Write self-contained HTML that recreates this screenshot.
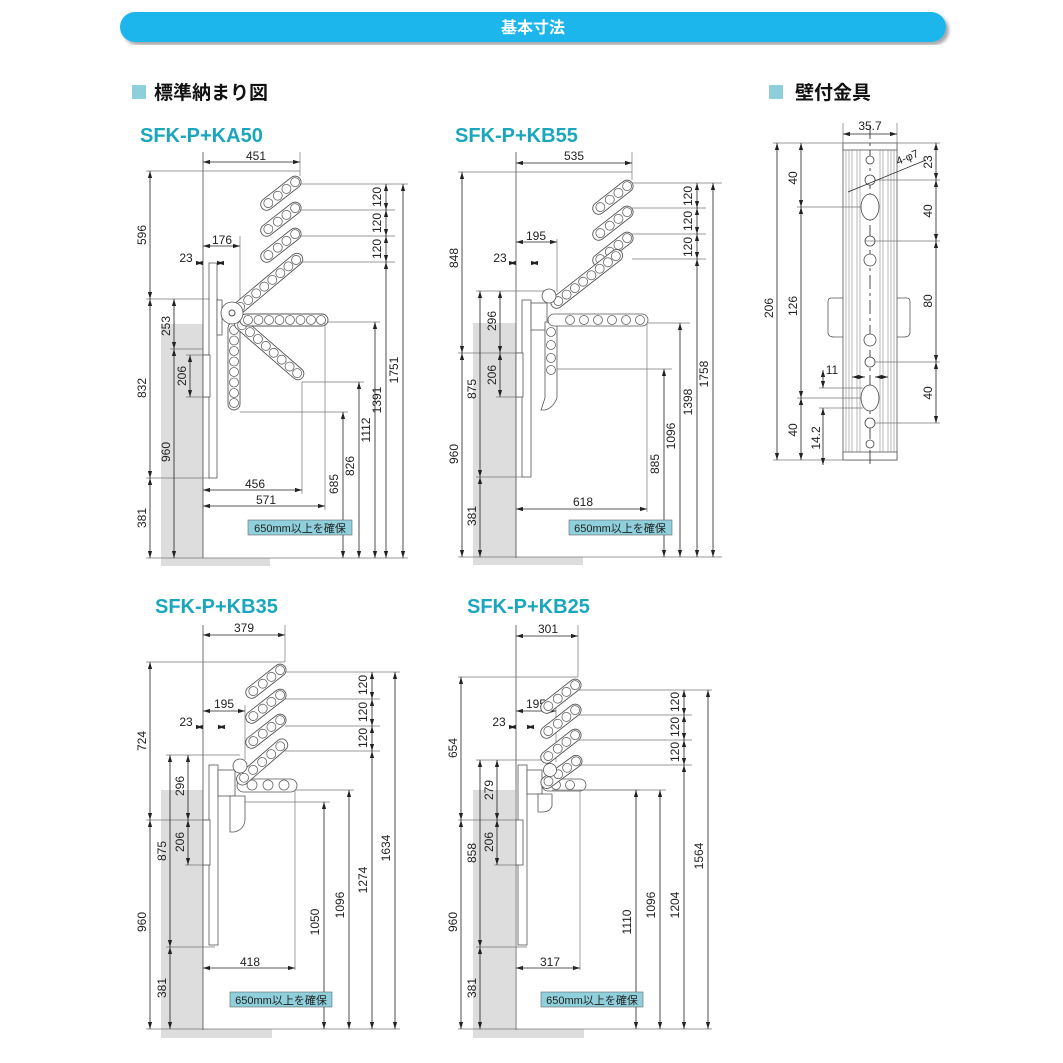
<!DOCTYPE html>
<html><head><meta charset="utf-8"><style>
body{margin:0;background:#fff}
svg{display:block}
.d{stroke:#222;stroke-width:.8;marker-start:url(#m);marker-end:url(#m);fill:none}
.e{stroke:#777;stroke-width:.7;fill:none}
.o{stroke:#555;stroke-width:.8;fill:#fff}
text{font-family:"Liberation Sans","Noto Sans CJK JP",sans-serif;font-size:12px;fill:#222}
.t{text-anchor:middle}
.ti{font-size:20px;fill:#1aa7bd;font-weight:bold}
.h{font-size:19px;font-weight:bold;fill:#111}
.bx{font-size:11px}
</style></head><body>
<svg width="1063" height="1063" viewBox="0 0 1063 1063" xmlns="http://www.w3.org/2000/svg">
<defs>
<marker id="m" viewBox="0 0 10 10" refX="10" refY="5" markerWidth="7" markerHeight="7" markerUnits="userSpaceOnUse" orient="auto-start-reverse"><path d="M0,2L10,5L0,8z" fill="#222"/></marker>
<g id="r4"><rect x="0" y="-6" width="48" height="12" rx="6" fill="#fff" stroke="#555" stroke-width=".9"/><g fill="none" stroke="#666" stroke-width=".8"><circle cx="8" r="4.5"/><circle cx="20" r="4.5"/><circle cx="31" r="4.5"/><circle cx="42" r="4.5"/></g></g>
<g id="r6"><rect x="0" y="-6" width="64" height="12" rx="6" fill="#fff" stroke="#555" stroke-width=".9"/><g fill="none" stroke="#666" stroke-width=".8"><circle cx="8" r="4.5"/><circle cx="20" r="4.5"/><circle cx="32" r="4.5"/><circle cx="44" r="4.5"/><circle cx="56" r="4.5"/></g></g>
<g id="r8"><rect x="0" y="-6" width="88" height="12" rx="6" fill="#fff" stroke="#555" stroke-width=".9"/><g fill="none" stroke="#666" stroke-width=".8"><circle cx="8" r="4.5"/><circle cx="18.5" r="4.5"/><circle cx="29" r="4.5"/><circle cx="39.5" r="4.5"/><circle cx="50" r="4.5"/><circle cx="60.5" r="4.5"/><circle cx="71" r="4.5"/><circle cx="81" r="4.5"/></g></g>
<filter id="sh"><feDropShadow dx="3" dy="3" stdDeviation="1.5" flood-color="#000" flood-opacity=".35"/></filter>
</defs>

<!-- header -->
<rect x="120" y="12" width="826" height="30" rx="15" fill="#1eb6ec" filter="url(#sh)"/>
<text x="533" y="33" class="t" style="font-size:16px;font-weight:bold;fill:#fff">基本寸法</text>
<rect x="132" y="85" width="14" height="14" fill="#8ecfdc"/>
<text x="154" y="99" class="h">標準納まり図</text>
<rect x="769" y="85" width="14" height="14" fill="#8ecfdc"/>
<text x="795" y="99" class="h">壁付金具</text>
<text x="140" y="142" class="ti">SFK-P+KA50</text>
<text x="455" y="142" class="ti">SFK-P+KB55</text>
<text x="155" y="613" class="ti">SFK-P+KB35</text>
<text x="467" y="613" class="ti">SFK-P+KB25</text>

<!-- ===== Diagram 1 KA50 ===== -->
<rect x="161" y="324" width="42" height="234" fill="#ddd"/>
<rect x="161" y="558" width="109" height="8" fill="#ddd"/>
<line x1="203" y1="152" x2="203" y2="558" class="e" style="stroke:#333"/>
<line x1="146" y1="558" x2="408" y2="558" class="e"/>
<line x1="146" y1="171" x2="300" y2="171" class="e"/>
<line x1="146" y1="299" x2="218" y2="299" class="e"/>
<line x1="146" y1="478" x2="210" y2="478" class="e"/>
<line x1="170" y1="349" x2="203" y2="349" class="e"/>
<line x1="186" y1="355" x2="210" y2="355" class="e"/>
<line x1="186" y1="397" x2="210" y2="397" class="e"/>
<rect x="209" y="263" width="8" height="215" class="o"/>
<rect x="217" y="300" width="5" height="35" class="o"/>
<rect x="203" y="355" width="7" height="42" class="o"/>
<line x1="300" y1="152" x2="300" y2="176" class="e"/>
<line x1="240" y1="236" x2="240" y2="305" class="e"/>
<line class="d" x1="203" y1="162" x2="300" y2="162"/><text x="256" y="160" class="t">451</text>
<line class="d" x1="203" y1="246" x2="240" y2="246"/><text x="222" y="244" class="t">176</text>
<line class="d" x1="196" y1="263" x2="203" y2="263"/><line class="d" x1="224" y1="263" x2="217" y2="263"/><text x="186" y="262" class="t">23</text>
<use href="#r4" transform="translate(262,208) rotate(-38)"/>
<use href="#r4" transform="translate(262,234) rotate(-38)"/>
<use href="#r4" transform="translate(262,260) rotate(-38)"/>
<use href="#r8" transform="translate(234,322) rotate(90)"/>
<use href="#r8" transform="translate(236,320) rotate(41)"/>
<use href="#r8" transform="translate(240,320)"/>
<use href="#r8" transform="translate(234,312) rotate(-40)"/>
<circle cx="232" cy="313" r="11" class="o"/><circle cx="232" cy="313" r="3" fill="none" stroke="#555"/>
<line x1="300" y1="184" x2="408" y2="184" class="e"/>
<line x1="300" y1="210" x2="395" y2="210" class="e"/>
<line x1="300" y1="236" x2="395" y2="236" class="e"/>
<line x1="300" y1="262" x2="395" y2="262" class="e"/>
<line x1="328" y1="322" x2="380" y2="322" class="e"/>
<line x1="302" y1="382" x2="364" y2="382" class="e"/>
<line x1="240" y1="412" x2="348" y2="412" class="e"/>
<line x1="302" y1="382" x2="302" y2="494" class="e"/>
<line x1="325" y1="322" x2="325" y2="510" class="e"/>
<line class="d" x1="150" y1="171" x2="150" y2="299"/><text transform="translate(146,235) rotate(-90)" class="t">596</text>
<line class="d" x1="150" y1="299" x2="150" y2="478"/><text transform="translate(146,388) rotate(-90)" class="t">832</text>
<line class="d" x1="150" y1="478" x2="150" y2="558"/><text transform="translate(146,518) rotate(-90)" class="t">381</text>
<line class="d" x1="174" y1="299" x2="174" y2="349"/><text transform="translate(170,326) rotate(-90)" class="t">253</text>
<line class="d" x1="174" y1="349" x2="174" y2="558"/><text transform="translate(170,452) rotate(-90)" class="t">960</text>
<line class="d" x1="190" y1="355" x2="190" y2="397"/><text transform="translate(186,376) rotate(-90)" class="t">206</text>
<line class="d" x1="386" y1="184" x2="386" y2="210"/><text transform="translate(381,197) rotate(-90)" class="t">120</text>
<line class="d" x1="386" y1="210" x2="386" y2="236"/><text transform="translate(381,223) rotate(-90)" class="t">120</text>
<line class="d" x1="386" y1="236" x2="386" y2="262"/><text transform="translate(381,249) rotate(-90)" class="t">120</text>
<line class="d" x1="386" y1="262" x2="386" y2="558"/><text transform="translate(381,400) rotate(-90)" class="t">1391</text>
<line class="d" x1="403" y1="184" x2="403" y2="558"/><text transform="translate(398,370) rotate(-90)" class="t">1751</text>
<line class="d" x1="375" y1="322" x2="375" y2="558"/><text transform="translate(370,430) rotate(-90)" class="t">1112</text>
<line class="d" x1="359" y1="382" x2="359" y2="558"/><text transform="translate(354,466) rotate(-90)" class="t">826</text>
<line class="d" x1="343" y1="412" x2="343" y2="558"/><text transform="translate(338,484) rotate(-90)" class="t">685</text>
<line class="d" x1="203" y1="490" x2="302" y2="490"/><text x="255" y="488" class="t">456</text>
<line class="d" x1="203" y1="506" x2="325" y2="506"/><text x="266" y="504" class="t">571</text>
<rect x="248" y="520" width="104" height="15" fill="#8fd0dc" stroke="#666" stroke-width=".6"/>
<text x="300" y="532" class="t bx">650mm以上を確保</text>

<!-- ===== Diagram 2 KB55 ===== -->
<rect x="473" y="323" width="43" height="235" fill="#ddd"/>
<rect x="473" y="557" width="110" height="8" fill="#ddd"/>
<line x1="516" y1="152" x2="516" y2="558" class="e" style="stroke:#333"/>
<line x1="458" y1="557" x2="722" y2="557" class="e"/>
<line x1="458" y1="172" x2="632" y2="172" class="e"/>
<line x1="476" y1="291" x2="555" y2="291" class="e"/>
<line x1="458" y1="353" x2="520" y2="353" class="e"/>
<line x1="476" y1="477" x2="522" y2="477" class="e"/>
<line x1="496" y1="397" x2="520" y2="397" class="e"/>
<rect x="522" y="300" width="9" height="177" class="o"/>
<rect x="516" y="353" width="7" height="44" class="o"/>
<rect x="531" y="303" width="16" height="27" class="o"/>
<line x1="632" y1="152" x2="632" y2="180" class="e"/>
<line x1="557" y1="239" x2="557" y2="292" class="e"/>
<line class="d" x1="516" y1="163" x2="632" y2="163"/><text x="574" y="160" class="t">535</text>
<line class="d" x1="516" y1="242" x2="557" y2="242"/><text x="536" y="240" class="t">195</text>
<line class="d" x1="509" y1="263" x2="516" y2="263"/><line class="d" x1="538" y1="263" x2="531" y2="263"/><text x="500" y="262" class="t">23</text>
<use href="#r4" transform="translate(594,212) rotate(-38)"/>
<use href="#r4" transform="translate(594,238) rotate(-38)"/>
<use href="#r4" transform="translate(594,264) rotate(-38)"/>
<path d="M545,322 L557,322 L557,398 Q553,408 545,410 L541,410 L545,398 Z" class="o"/>
<g fill="none" stroke="#666" stroke-width=".8"><circle cx="551" cy="332" r="4.5"/><circle cx="551" cy="345" r="4.5"/><circle cx="551" cy="358" r="4.5"/><circle cx="551" cy="370" r="4.5"/></g>
<rect x="548" y="314" width="100" height="12" rx="6" class="o"/>
<g fill="none" stroke="#666" stroke-width=".8"><circle cx="570" cy="320" r="4.5"/><circle cx="584" cy="320" r="4.5"/><circle cx="598" cy="320" r="4.5"/><circle cx="612" cy="320" r="4.5"/><circle cx="626" cy="320" r="4.5"/><circle cx="640" cy="320" r="4.5"/></g>
<use href="#r8" transform="translate(552,306) rotate(-38)"/>
<circle cx="549" cy="296" r="7" class="o"/>
<line x1="632" y1="183" x2="722" y2="183" class="e"/>
<line x1="632" y1="208" x2="706" y2="208" class="e"/>
<line x1="632" y1="234" x2="706" y2="234" class="e"/>
<line x1="632" y1="259" x2="706" y2="259" class="e"/>
<line x1="648" y1="323" x2="690" y2="323" class="e"/>
<line x1="557" y1="369" x2="672" y2="369" class="e"/>
<line x1="647" y1="323" x2="647" y2="512" class="e"/>
<line class="d" x1="462" y1="172" x2="462" y2="353"/><text transform="translate(458,258) rotate(-90)" class="t">848</text>
<line class="d" x1="462" y1="353" x2="462" y2="557"/><text transform="translate(458,454) rotate(-90)" class="t">960</text>
<line class="d" x1="480" y1="291" x2="480" y2="477"/><text transform="translate(476,389) rotate(-90)" class="t">875</text>
<line class="d" x1="480" y1="477" x2="480" y2="557"/><text transform="translate(476,516) rotate(-90)" class="t">381</text>
<line class="d" x1="500" y1="291" x2="500" y2="353"/><text transform="translate(496,321) rotate(-90)" class="t">296</text>
<line class="d" x1="500" y1="353" x2="500" y2="397"/><text transform="translate(496,375) rotate(-90)" class="t">206</text>
<line class="d" x1="697" y1="183" x2="697" y2="208"/><text transform="translate(692,196) rotate(-90)" class="t">120</text>
<line class="d" x1="697" y1="208" x2="697" y2="234"/><text transform="translate(692,221) rotate(-90)" class="t">120</text>
<line class="d" x1="697" y1="234" x2="697" y2="259"/><text transform="translate(692,247) rotate(-90)" class="t">120</text>
<line class="d" x1="697" y1="259" x2="697" y2="557"/><text transform="translate(692,402) rotate(-90)" class="t">1398</text>
<line class="d" x1="713" y1="183" x2="713" y2="557"/><text transform="translate(708,374) rotate(-90)" class="t">1758</text>
<line class="d" x1="680" y1="323" x2="680" y2="557"/><text transform="translate(675,436) rotate(-90)" class="t">1096</text>
<line class="d" x1="664" y1="369" x2="664" y2="557"/><text transform="translate(659,464) rotate(-90)" class="t">885</text>
<line class="d" x1="516" y1="509" x2="647" y2="509"/><text x="583" y="506" class="t">618</text>
<rect x="569" y="520" width="103" height="15" fill="#8fd0dc" stroke="#666" stroke-width=".6"/>
<text x="620" y="532" class="t bx">650mm以上を確保</text>

<!-- ===== Diagram 3 KB35 ===== -->
<rect x="161" y="790" width="42" height="240" fill="#ddd"/>
<rect x="161" y="1029" width="111" height="9" fill="#ddd"/>
<line x1="203" y1="625" x2="203" y2="1030" class="e" style="stroke:#333"/>
<line x1="146" y1="1029" x2="400" y2="1029" class="e"/>
<line x1="146" y1="662" x2="285" y2="662" class="e"/>
<line x1="166" y1="755" x2="240" y2="755" class="e"/>
<line x1="146" y1="820" x2="210" y2="820" class="e"/>
<line x1="185" y1="865" x2="210" y2="865" class="e"/>
<line x1="166" y1="947" x2="215" y2="947" class="e"/>
<rect x="209" y="765" width="9" height="180" class="o"/>
<rect x="203" y="820" width="7" height="45" class="o"/>
<rect x="218" y="770" width="17" height="26" class="o"/>
<path d="M230,796 L245,796 L245,820 Q244,830 234,832 L230,832 Z" class="o"/>
<line x1="285" y1="625" x2="285" y2="662" class="e"/>
<line x1="245" y1="705" x2="245" y2="760" class="e"/>
<line class="d" x1="203" y1="635" x2="285" y2="635"/><text x="244" y="632" class="t">379</text>
<line class="d" x1="203" y1="711" x2="245" y2="711"/><text x="224" y="708" class="t">195</text>
<line class="d" x1="196" y1="727" x2="203" y2="727"/><line class="d" x1="225" y1="727" x2="218" y2="727"/><text x="186" y="726" class="t">23</text>
<use href="#r4" transform="translate(247,696) rotate(-38)"/>
<use href="#r4" transform="translate(247,721) rotate(-38)"/>
<use href="#r4" transform="translate(247,746) rotate(-38)"/>
<rect x="237" y="779" width="60" height="13" rx="6.5" class="o"/>
<g fill="none" stroke="#666" stroke-width=".8"><circle cx="252" cy="785" r="5"/><circle cx="268" cy="785" r="5"/><circle cx="284" cy="785" r="5"/></g>
<use href="#r6" transform="translate(238,783) rotate(-41)"/>
<circle cx="240" cy="766" r="7" class="o"/>
<line x1="285" y1="672" x2="400" y2="672" class="e"/>
<line x1="285" y1="699" x2="380" y2="699" class="e"/>
<line x1="285" y1="726" x2="380" y2="726" class="e"/>
<line x1="285" y1="751" x2="380" y2="751" class="e"/>
<line x1="295" y1="790" x2="354" y2="790" class="e"/>
<line x1="245" y1="802" x2="330" y2="802" class="e"/>
<line x1="295" y1="790" x2="295" y2="970" class="e"/>
<line class="d" x1="150" y1="662" x2="150" y2="820"/><text transform="translate(146,741) rotate(-90)" class="t">724</text>
<line class="d" x1="150" y1="820" x2="150" y2="1029"/><text transform="translate(146,922) rotate(-90)" class="t">960</text>
<line class="d" x1="170" y1="755" x2="170" y2="947"/><text transform="translate(166,851) rotate(-90)" class="t">875</text>
<line class="d" x1="170" y1="947" x2="170" y2="1029"/><text transform="translate(166,988) rotate(-90)" class="t">381</text>
<line class="d" x1="188" y1="755" x2="188" y2="820"/><text transform="translate(184,786) rotate(-90)" class="t">296</text>
<line class="d" x1="188" y1="820" x2="188" y2="865"/><text transform="translate(184,842) rotate(-90)" class="t">206</text>
<line class="d" x1="372" y1="672" x2="372" y2="699"/><text transform="translate(367,685) rotate(-90)" class="t">120</text>
<line class="d" x1="372" y1="699" x2="372" y2="726"/><text transform="translate(367,712) rotate(-90)" class="t">120</text>
<line class="d" x1="372" y1="726" x2="372" y2="751"/><text transform="translate(367,738) rotate(-90)" class="t">120</text>
<line class="d" x1="372" y1="751" x2="372" y2="1029"/><text transform="translate(367,880) rotate(-90)" class="t">1274</text>
<line class="d" x1="395" y1="672" x2="395" y2="1029"/><text transform="translate(390,848) rotate(-90)" class="t">1634</text>
<line class="d" x1="349" y1="790" x2="349" y2="1029"/><text transform="translate(344,905) rotate(-90)" class="t">1096</text>
<line class="d" x1="324" y1="802" x2="324" y2="1029"/><text transform="translate(319,922) rotate(-90)" class="t">1050</text>
<line class="d" x1="203" y1="968" x2="295" y2="968"/><text x="250" y="966" class="t">418</text>
<rect x="230" y="992" width="102" height="15" fill="#8fd0dc" stroke="#666" stroke-width=".6"/>
<text x="281" y="1004" class="t bx">650mm以上を確保</text>

<!-- ===== Diagram 4 KB25 ===== -->
<rect x="473" y="790" width="42" height="240" fill="#ddd"/>
<rect x="473" y="1029" width="111" height="9" fill="#ddd"/>
<line x1="516" y1="625" x2="516" y2="1030" class="e" style="stroke:#333"/>
<line x1="458" y1="1029" x2="712" y2="1029" class="e"/>
<line x1="458" y1="677" x2="578" y2="677" class="e"/>
<line x1="476" y1="760" x2="552" y2="760" class="e"/>
<line x1="458" y1="820" x2="522" y2="820" class="e"/>
<line x1="494" y1="865" x2="522" y2="865" class="e"/>
<line x1="476" y1="947" x2="527" y2="947" class="e"/>
<rect x="518" y="765" width="9" height="180" class="o"/>
<rect x="516" y="820" width="7" height="45" class="o"/>
<rect x="527" y="770" width="15" height="24" class="o"/>
<path d="M538,794 L552,794 L552,806 Q550,812 542,812 L538,812 Z" class="o"/>
<line x1="578" y1="625" x2="578" y2="677" class="e"/>
<line x1="556" y1="705" x2="556" y2="762" class="e"/>
<line class="d" x1="516" y1="636" x2="578" y2="636"/><text x="548" y="633" class="t">301</text>
<line class="d" x1="516" y1="711" x2="556" y2="711"/><text x="536" y="708" class="t">195</text>
<line class="d" x1="509" y1="727" x2="516" y2="727"/><line class="d" x1="534" y1="727" x2="527" y2="727"/><text x="499" y="726" class="t">23</text>
<use href="#r4" transform="translate(542,711) rotate(-38)"/>
<use href="#r4" transform="translate(542,736) rotate(-38)"/>
<use href="#r4" transform="translate(542,761) rotate(-38)"/>
<rect x="542" y="779" width="44" height="12" rx="6" class="o"/>
<g fill="none" stroke="#666" stroke-width=".8"><circle cx="556" cy="785" r="4.5"/><circle cx="570" cy="785" r="4.5"/></g>
<use href="#r4" transform="translate(542,786) rotate(-36)"/>
<circle cx="550" cy="770" r="6.5" class="o"/>
<line x1="578" y1="690" x2="712" y2="690" class="e"/>
<line x1="578" y1="715" x2="692" y2="715" class="e"/>
<line x1="578" y1="740" x2="692" y2="740" class="e"/>
<line x1="578" y1="765" x2="692" y2="765" class="e"/>
<line x1="586" y1="790" x2="666" y2="790" class="e"/>
<line x1="552" y1="790" x2="640" y2="790" class="e"/>
<line x1="580" y1="790" x2="580" y2="970" class="e"/>
<line class="d" x1="461" y1="677" x2="461" y2="820"/><text transform="translate(457,748) rotate(-90)" class="t">654</text>
<line class="d" x1="461" y1="820" x2="461" y2="1029"/><text transform="translate(457,922) rotate(-90)" class="t">960</text>
<line class="d" x1="480" y1="760" x2="480" y2="947"/><text transform="translate(476,853) rotate(-90)" class="t">858</text>
<line class="d" x1="480" y1="947" x2="480" y2="1029"/><text transform="translate(476,988) rotate(-90)" class="t">381</text>
<line class="d" x1="497" y1="760" x2="497" y2="820"/><text transform="translate(493,790) rotate(-90)" class="t">279</text>
<line class="d" x1="497" y1="820" x2="497" y2="865"/><text transform="translate(493,842) rotate(-90)" class="t">206</text>
<line class="d" x1="684" y1="690" x2="684" y2="715"/><text transform="translate(679,702) rotate(-90)" class="t">120</text>
<line class="d" x1="684" y1="715" x2="684" y2="740"/><text transform="translate(679,727) rotate(-90)" class="t">120</text>
<line class="d" x1="684" y1="740" x2="684" y2="765"/><text transform="translate(679,752) rotate(-90)" class="t">120</text>
<line class="d" x1="684" y1="765" x2="684" y2="1029"/><text transform="translate(679,905) rotate(-90)" class="t">1204</text>
<line class="d" x1="708" y1="690" x2="708" y2="1029"/><text transform="translate(703,856) rotate(-90)" class="t">1564</text>
<line class="d" x1="660" y1="790" x2="660" y2="1029"/><text transform="translate(655,905) rotate(-90)" class="t">1096</text>
<line class="d" x1="636" y1="790" x2="636" y2="1029"/><text transform="translate(631,922) rotate(-90)" class="t">1110</text>
<line class="d" x1="516" y1="968" x2="580" y2="968"/><text x="550" y="966" class="t">317</text>
<rect x="541" y="992" width="102" height="15" fill="#8fd0dc" stroke="#666" stroke-width=".6"/>
<text x="592" y="1004" class="t bx">650mm以上を確保</text>

<!-- ===== Wall fitting ===== -->
<path d="M843,298 h-12 q-3,0 -3,4 v30 q0,5 6,5 h9 M897,298 h10 q3,0 3,4 v30 q0,5 -6,5 h-7" class="o" style="fill:#fff"/>
<rect x="843" y="143" width="54" height="317" class="o"/>
<rect x="843" y="143" width="54" height="7" class="o"/>
<rect x="843" y="452" width="54" height="8" class="o"/>
<g stroke="#888" stroke-width=".6">
<line x1="846" y1="150" x2="846" y2="452"/><line x1="849" y1="150" x2="849" y2="452"/><line x1="852" y1="150" x2="852" y2="452"/><line x1="857" y1="150" x2="857" y2="452"/><line x1="860" y1="150" x2="860" y2="452"/>
<line x1="880" y1="150" x2="880" y2="452"/><line x1="883" y1="150" x2="883" y2="452"/><line x1="888" y1="150" x2="888" y2="452"/><line x1="891" y1="150" x2="891" y2="452"/><line x1="894" y1="150" x2="894" y2="452"/>
</g>
<line x1="870" y1="125" x2="870" y2="466" stroke="#222" stroke-width=".8" stroke-dasharray="14,4,3,4"/>
<g fill="#fff" stroke="#444" stroke-width=".8">
<circle cx="870" cy="160" r="4"/><circle cx="870" cy="180" r="5"/><ellipse cx="870" cy="207" rx="9" ry="13"/><circle cx="870" cy="241" r="5"/><circle cx="870" cy="260" r="6"/><circle cx="870" cy="340" r="6"/><circle cx="870" cy="362" r="5"/><ellipse cx="870" cy="398" rx="9" ry="13"/><circle cx="870" cy="423" r="5"/><circle cx="870" cy="444" r="4"/>
</g>
<line x1="843" y1="123" x2="843" y2="143" class="e"/><line x1="897" y1="123" x2="897" y2="143" class="e"/>
<line class="d" x1="843" y1="134" x2="897" y2="134"/><text x="870" y="130" class="t">35.7</text>
<line x1="773" y1="143" x2="940" y2="143" class="e"/>
<line x1="773" y1="460" x2="843" y2="460" class="e"/>
<line x1="797" y1="207" x2="861" y2="207" class="e"/>
<line x1="797" y1="398" x2="861" y2="398" class="e"/>
<line x1="875" y1="180" x2="940" y2="180" class="e"/>
<line x1="865" y1="241" x2="940" y2="241" class="e"/>
<line x1="875" y1="362" x2="940" y2="362" class="e"/>
<line x1="875" y1="423" x2="940" y2="423" class="e"/>
<line x1="819" y1="388" x2="863" y2="388" class="e"/>
<line x1="819" y1="408" x2="863" y2="408" class="e"/>
<line x1="848" y1="192" x2="926" y2="160" stroke="#222" stroke-width=".7"/>
<text transform="translate(898,165) rotate(-22)" style="font-size:11px">4-φ7</text>
<line class="d" x1="777" y1="143" x2="777" y2="460"/><text transform="translate(773,308) rotate(-90)" class="t">206</text>
<line class="d" x1="801" y1="143" x2="801" y2="207"/><text transform="translate(797,178) rotate(-90)" class="t">40</text>
<line class="d" x1="801" y1="207" x2="801" y2="398"/><text transform="translate(797,306) rotate(-90)" class="t">126</text>
<line class="d" x1="801" y1="398" x2="801" y2="460"/><text transform="translate(797,430) rotate(-90)" class="t">40</text>
<line class="d" x1="823" y1="388" x2="823" y2="370"/><line class="d" x1="823" y1="408" x2="823" y2="465"/>
<text transform="translate(820,438) rotate(-90)" class="t">14.2</text>
<line class="d" x1="852" y1="377" x2="865" y2="377"/><line class="d" x1="888" y1="377" x2="875" y2="377"/>
<text x="832" y="374" class="t">11</text>
<line class="d" x1="936" y1="143" x2="936" y2="180"/><text transform="translate(932,162) rotate(-90)" class="t">23</text>
<line class="d" x1="936" y1="180" x2="936" y2="241"/><text transform="translate(932,211) rotate(-90)" class="t">40</text>
<line class="d" x1="936" y1="241" x2="936" y2="362"/><text transform="translate(932,301) rotate(-90)" class="t">80</text>
<line class="d" x1="936" y1="362" x2="936" y2="423"/><text transform="translate(932,393) rotate(-90)" class="t">40</text>
</svg>
</body></html>
